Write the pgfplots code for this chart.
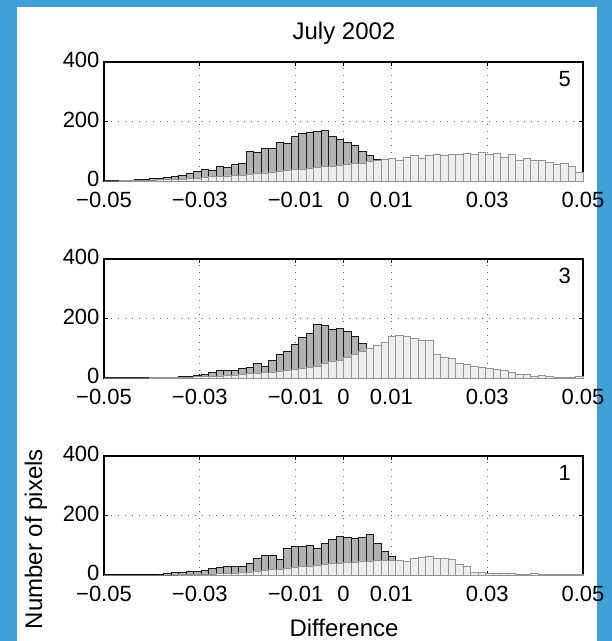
\documentclass[border=0pt]{standalone}
\usepackage{fontspec}
\setmainfont{Liberation Sans}
\usepackage{pgfplots}
\usepackage{pgfplotstable}
\pgfplotsset{compat=1.18}
\definecolor{frameblue}{RGB}{64,160,216}

% bin left edges (64 bins of width 0.0015625 from -0.05 to 0.05), last row = right edge
\pgfplotstableread{
x d5 l5 d3 l3 d1 l1
-0.05 0 0 0 0 0 0
-0.0484375 1 0 0 0 0 0
-0.046875 2 1 0 0 0 0
-0.0453125 3 1 0 0 0 0
-0.04375 4 2 0 0 0 0
-0.0421875 6 2 1 0 0 0
-0.040625 8 3 2 1 0 0
-0.0390625 10 4 2 1 3 0
-0.0375 12 5 3 1 5 0
-0.0359375 14 5 3 2 8 0
-0.034375 18 6 4 2 10 1
-0.0328125 25 8 5 3 12 1
-0.03125 33 10 10 4 12 2
-0.0296875 38 12 13 5 15 2
-0.028125 35 14 19 6 23 3
-0.0265625 50 15 25 7 25 4
-0.025 47 17 24 8 29 5
-0.0234375 55 18 26 10 29 6
-0.021875 60 20 32 12 30 8
-0.0203125 100 22 35 14 40 10
-0.01875 95 25 50 15 57 12
-0.0171875 110 27 40 18 65 15
-0.015625 110 30 60 20 65 18
-0.0140625 130 32 78 22 52 20
-0.0125 125 35 88 25 88 22
-0.0109375 150 38 112 28 96 25
-0.009375 160 40 135 32 97 28
-0.0078125 165 42 150 36 98 30
-0.00625 168 45 180 40 90 32
-0.0046875 170 50 178 48 105 35
-0.003125 150 48 165 55 118 38
-0.0015625 140 52 168 60 130 40
0 130 55 155 70 125 42
0.0015625 120 58 140 80 122 44
0.003125 100 60 115 90 125 45
0.0046875 85 65 100 100 135 46
0.00625 72 68 80 110 105 48
0.0078125 65 72 60 120 80 50
0.009375 55 75 45 140 62 48
0.0109375 45 70 35 142 45 50
0.0125 40 80 28 140 35 45
0.0140625 35 85 22 132 25 55
0.015625 30 75 18 128 18 60
0.0171875 28 85 15 125 12 62
0.01875 25 90 12 80 8 57
0.0203125 22 85 10 70 5 55
0.021875 20 90 8 65 4 52
0.0234375 18 90 7 48 3 35
0.025 15 92 6 45 2 30
0.0265625 14 90 5 38 2 10
0.028125 12 95 4 35 1 8
0.0296875 10 90 3 32 0 6
0.03125 9 92 3 28 0 5
0.0328125 8 80 2 25 0 4
0.034375 7 88 2 20 0 5
0.0359375 6 70 1 12 0 3
0.0375 5 75 1 12 0 3
0.0390625 4 70 0 5 0 4
0.040625 3 68 0 8 0 2
0.0421875 3 62 0 4 0 1
0.04375 2 55 0 3 0 1
0.0453125 2 58 0 3 0 1
0.046875 1 48 0 2 0 2
0.0484375 1 30 0 5 0 1
0.05 1 30 0 5 0 1
}\hist

\pgfplotsset{
  panel/.style={
    scale only axis, width=479pt, height=119pt,
    xmin=-0.05, xmax=0.05, ymin=0, ymax=400,
    scaled x ticks=false, scaled y ticks=false,
    xtick={-0.05,-0.03,-0.01,0,0.01,0.03,0.05},
    xticklabels={−0.05,−0.03,−0.01,0,0.01,0.03,0.05},
    ytick={0,200,400}, yticklabels={0,200,400},
    grid=major,
    major grid style={black!60, line width=0.9pt, dash pattern=on 1.3pt off 5.7pt},
    tick align=inside, major tick length=4pt,
    tick style={black, line width=0.8pt},
    axis line style={black, line width=1.2pt},
    ticklabel style={font=\fontsize{22}{22}\selectfont},
    xticklabel style={yshift=-8pt},
    yticklabel style={xshift=-1pt, yshift=2pt},
    clip=false,
  },
  dark/.style={ybar interval, fill=black!30, draw=black!90, line width=0.8pt},
  light/.style={ybar interval, fill=black!7, draw=black!42, line width=0.8pt},
}

\begin{document}
\begin{tikzpicture}
\fill[frameblue] (0,0) rectangle (612pt,641pt);
\fill[white] (17pt,0) rectangle (597pt,634pt);

\node[font=\fontsize{24}{24}\selectfont] at (344pt,608pt) {July 2002};

\begin{axis}[panel, at={(104pt,460pt)}, anchor=south west]
\addplot[dark] table[x=x,y=d5]{\hist};
\addplot[light] table[x=x,y=l5]{\hist};
\node[font=\fontsize{22}{22}\selectfont] at (rel axis cs:0.962,0.86) {5};
\end{axis}

\begin{axis}[panel, at={(104pt,263pt)}, anchor=south west]
\addplot[dark] table[x=x,y=d3]{\hist};
\addplot[light] table[x=x,y=l3]{\hist};
\node[font=\fontsize{22}{22}\selectfont] at (rel axis cs:0.962,0.86) {3};
\end{axis}

\begin{axis}[panel, at={(104pt,66pt)}, anchor=south west]
\addplot[dark] table[x=x,y=d1]{\hist};
\addplot[light] table[x=x,y=l1]{\hist};
\node[font=\fontsize{22}{22}\selectfont] at (rel axis cs:0.962,0.86) {1};
\end{axis}

\node[font=\fontsize{24}{24}\selectfont, rotate=90] at (36pt,102pt) {Number of pixels};
\node[font=\fontsize{24}{24}\selectfont] at (344pt,13pt) {Difference};

\pgfresetboundingbox
\useasboundingbox (0,0) rectangle (612pt,641pt);
\end{tikzpicture}
\end{document}
